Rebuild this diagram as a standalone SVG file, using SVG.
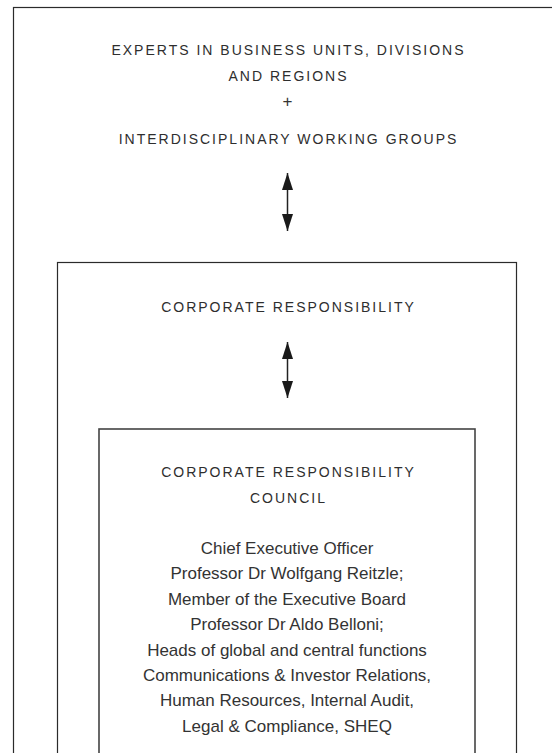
<svg xmlns="http://www.w3.org/2000/svg" width="552" height="753" viewBox="0 0 552 753">
  <style>
    .box { fill: none; stroke: #2b2b2b; stroke-width: 1.2; }
    .inner { fill: none; stroke: #444; stroke-width: 1.6; }
    .cap { font-family: "Liberation Sans", Arial, sans-serif; font-size: 14px; letter-spacing: 2px; fill: #2e2e2e; text-anchor: middle; }
    .plus { font-family: "Liberation Sans", Arial, sans-serif; font-size: 17px; fill: #333; text-anchor: middle; }
    .body { font-family: "Liberation Sans", Arial, sans-serif; font-size: 17px; fill: #333; text-anchor: middle; }
    .conn { stroke: #222; stroke-width: 1.5; fill: none; marker-start: url(#head); marker-end: url(#head); }
  </style>
  <defs>
    <marker id="head" viewBox="0 0 17 11" refX="17" refY="5.5" markerWidth="17" markerHeight="11" markerUnits="userSpaceOnUse" orient="auto-start-reverse">
      <path d="M0,0 L17,5.5 L0,11 Z" fill="#1a1a1a"/>
    </marker>
  </defs>

  <g id="experts">
    <rect class="box" x="13.5" y="7.5" width="600" height="800"/>
    <text class="cap" x="288.5" y="55">EXPERTS IN BUSINESS UNITS, DIVISIONS</text>
    <text class="cap" x="288.5" y="81">AND REGIONS</text>
    <text class="plus" x="287.5" y="107">+</text>
    <text class="cap" x="288.5" y="144">INTERDISCIPLINARY WORKING GROUPS</text>
  </g>

  <g id="corporate-responsibility">
    <rect class="box" x="57.5" y="262.5" width="459" height="600"/>
    <text class="cap" x="288.5" y="312">CORPORATE RESPONSIBILITY</text>
  </g>

  <g id="cr-council">
    <rect class="inner" x="99" y="429" width="376" height="400"/>
    <text class="cap" x="288.5" y="477">CORPORATE RESPONSIBILITY</text>
    <text class="cap" x="288.5" y="503">COUNCIL</text>
    <text class="body" x="287" y="554">Chief Executive Officer</text>
    <text class="body" x="287" y="579.4">Professor Dr Wolfgang Reitzle;</text>
    <text class="body" x="287" y="604.8">Member of the Executive Board</text>
    <text class="body" x="287" y="630.2">Professor Dr Aldo Belloni;</text>
    <text class="body" x="287" y="655.6">Heads of global and central functions</text>
    <text class="body" x="287" y="681">Communications &amp; Investor Relations,</text>
    <text class="body" x="287" y="706.4">Human Resources, Internal Audit,</text>
    <text class="body" x="287" y="731.8">Legal &amp; Compliance, SHEQ</text>
  </g>

  <g id="connectors">
    <line class="conn" x1="287.5" y1="173" x2="287.5" y2="231"/>
    <line class="conn" x1="287.5" y1="342" x2="287.5" y2="398"/>
  </g>
</svg>
